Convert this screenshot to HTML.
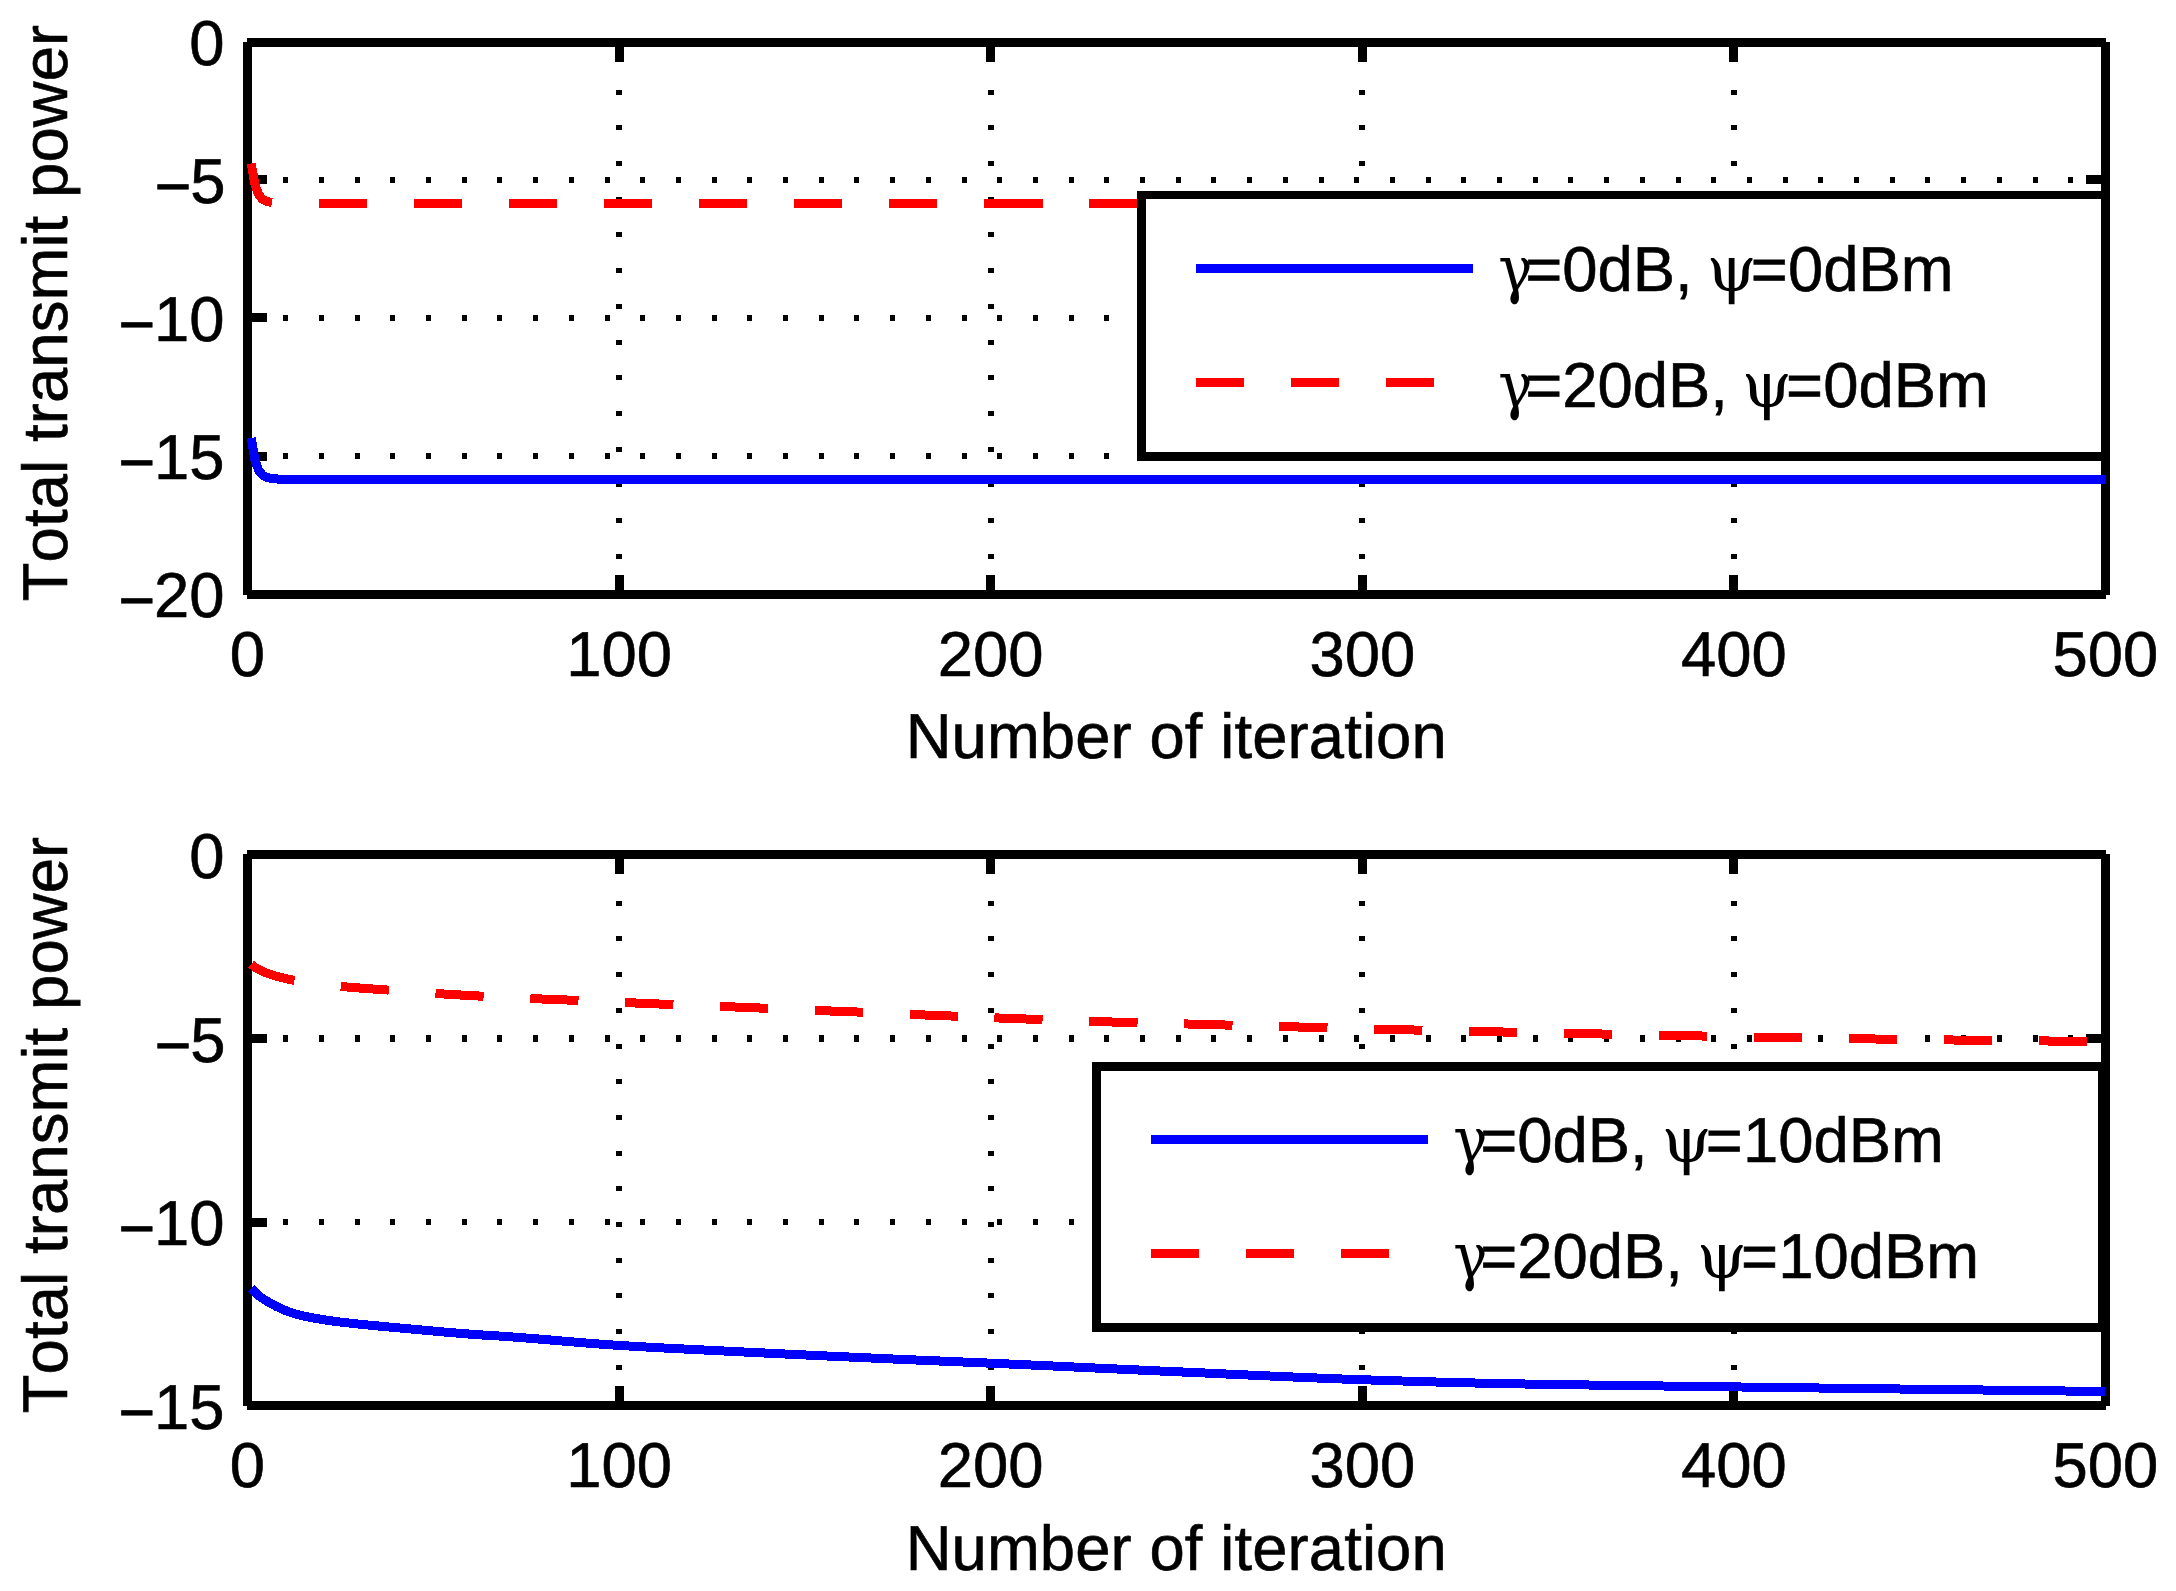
<!DOCTYPE html>
<html><head><meta charset="utf-8"><title>Total transmit power vs number of iteration</title>
<style>
html,body{margin:0;padding:0;background:#fff;}
svg{display:block;}
text{font-family:"Liberation Sans",sans-serif;font-size:63.4px;fill:#000;font-kerning:none;stroke:#000;stroke-width:0.6px;}
.gk{font-family:'DejaVu Serif','Liberation Serif',serif;stroke:none;}
</style></head><body>
<svg width="2176" height="1591" viewBox="0 0 2176 1591" shape-rendering="crispEdges" text-rendering="geometricPrecision">
<rect width="2176" height="1591" fill="#fff"/>
<line x1="619.10" y1="594.5" x2="619.10" y2="42.5" stroke="#000" stroke-width="6.0" stroke-dasharray="5.0 30.700000000000003"/>
<line x1="990.70" y1="594.5" x2="990.70" y2="42.5" stroke="#000" stroke-width="6.0" stroke-dasharray="5.0 30.700000000000003"/>
<line x1="1362.30" y1="594.5" x2="1362.30" y2="42.5" stroke="#000" stroke-width="6.0" stroke-dasharray="5.0 30.700000000000003"/>
<line x1="1733.90" y1="594.5" x2="1733.90" y2="42.5" stroke="#000" stroke-width="6.0" stroke-dasharray="5.0 30.700000000000003"/>
<line x1="247.5" y1="180.00" x2="2105.5" y2="180.00" stroke="#000" stroke-width="6" stroke-dasharray="5.0 30.700000000000003"/>
<line x1="247.5" y1="318.00" x2="2105.5" y2="318.00" stroke="#000" stroke-width="6" stroke-dasharray="5.0 30.700000000000003"/>
<line x1="247.5" y1="456.00" x2="2105.5" y2="456.00" stroke="#000" stroke-width="6" stroke-dasharray="5.0 30.700000000000003"/>
<g stroke="#000" stroke-width="9.0" fill="none">
<line x1="247.0" y1="42.5" x2="2106.0" y2="42.5"/>
<line x1="247.0" y1="594.5" x2="2106.0" y2="594.5"/>
<line x1="247.5" y1="41.5" x2="247.5" y2="595.0"/>
<line x1="2105.5" y1="41.5" x2="2105.5" y2="595.0"/>
<line x1="619.10" y1="594.5" x2="619.10" y2="575.0"/>
<line x1="619.10" y1="42.5" x2="619.10" y2="62.0"/>
<line x1="990.70" y1="594.5" x2="990.70" y2="575.0"/>
<line x1="990.70" y1="42.5" x2="990.70" y2="62.0"/>
<line x1="1362.30" y1="594.5" x2="1362.30" y2="575.0"/>
<line x1="1362.30" y1="42.5" x2="1362.30" y2="62.0"/>
<line x1="1733.90" y1="594.5" x2="1733.90" y2="575.0"/>
<line x1="1733.90" y1="42.5" x2="1733.90" y2="62.0"/>
<line x1="247.5" y1="179.50" x2="267.0" y2="179.50"/>
<line x1="2105.5" y1="179.50" x2="2086.0" y2="179.50"/>
<line x1="247.5" y1="317.50" x2="267.0" y2="317.50"/>
<line x1="2105.5" y1="317.50" x2="2086.0" y2="317.50"/>
<line x1="247.5" y1="456.50" x2="267.0" y2="456.50"/>
<line x1="2105.5" y1="456.50" x2="2086.0" y2="456.50"/>
</g>
<path d="M251.22 438.00 L254.93 460.00 L258.65 470.30 L262.36 475.00 L266.08 477.00 L269.80 478.00 L273.51 478.60 L277.23 479.00 L280.94 479.30 L284.66 479.50 L288.38 479.50 L292.09 479.50 L295.81 479.50 L299.52 479.50 L303.24 479.50 L306.96 479.50 L310.67 479.50 L314.39 479.50 L318.10 479.50 L321.82 479.50 L325.54 479.50 L329.25 479.50 L332.97 479.50 L336.68 479.50 L340.40 479.50 L344.12 479.50 L347.83 479.50 L351.55 479.50 L355.26 479.50 L358.98 479.50 L362.70 479.50 L366.41 479.50 L370.13 479.50 L373.84 479.50 L377.56 479.50 L381.28 479.50 L384.99 479.50 L388.71 479.50 L392.42 479.50 L396.14 479.50 L399.86 479.50 L403.57 479.50 L407.29 479.50 L411.00 479.50 L414.72 479.50 L418.44 479.50 L422.15 479.50 L425.87 479.50 L429.58 479.50 L433.30 479.50 L437.02 479.50 L440.73 479.50 L444.45 479.50 L448.16 479.50 L451.88 479.50 L455.60 479.50 L459.31 479.50 L463.03 479.50 L466.74 479.50 L470.46 479.50 L474.18 479.50 L477.89 479.50 L481.61 479.50 L485.32 479.50 L489.04 479.50 L492.76 479.50 L496.47 479.50 L500.19 479.50 L503.90 479.50 L507.62 479.50 L511.34 479.50 L515.05 479.50 L518.77 479.50 L522.48 479.50 L526.20 479.50 L529.92 479.50 L533.63 479.50 L537.35 479.50 L541.06 479.50 L544.78 479.50 L548.50 479.50 L552.21 479.50 L555.93 479.50 L559.64 479.50 L563.36 479.50 L567.08 479.50 L570.79 479.50 L574.51 479.50 L578.22 479.50 L581.94 479.50 L585.66 479.50 L589.37 479.50 L593.09 479.50 L596.80 479.50 L600.52 479.50 L604.24 479.50 L607.95 479.50 L611.67 479.50 L615.38 479.50 L619.10 479.50 L622.82 479.50 L626.53 479.50 L630.25 479.50 L633.96 479.50 L637.68 479.50 L641.40 479.50 L645.11 479.50 L648.83 479.50 L652.54 479.50 L656.26 479.50 L659.98 479.50 L663.69 479.50 L667.41 479.50 L671.12 479.50 L674.84 479.50 L678.56 479.50 L682.27 479.50 L685.99 479.50 L689.70 479.50 L693.42 479.50 L697.14 479.50 L700.85 479.50 L704.57 479.50 L708.28 479.50 L712.00 479.50 L715.72 479.50 L719.43 479.50 L723.15 479.50 L726.86 479.50 L730.58 479.50 L734.30 479.50 L738.01 479.50 L741.73 479.50 L745.44 479.50 L749.16 479.50 L752.88 479.50 L756.59 479.50 L760.31 479.50 L764.02 479.50 L767.74 479.50 L771.46 479.50 L775.17 479.50 L778.89 479.50 L782.60 479.50 L786.32 479.50 L790.04 479.50 L793.75 479.50 L797.47 479.50 L801.18 479.50 L804.90 479.50 L808.62 479.50 L812.33 479.50 L816.05 479.50 L819.76 479.50 L823.48 479.50 L827.20 479.50 L830.91 479.50 L834.63 479.50 L838.34 479.50 L842.06 479.50 L845.78 479.50 L849.49 479.50 L853.21 479.50 L856.92 479.50 L860.64 479.50 L864.36 479.50 L868.07 479.50 L871.79 479.50 L875.50 479.50 L879.22 479.50 L882.94 479.50 L886.65 479.50 L890.37 479.50 L894.08 479.50 L897.80 479.50 L901.52 479.50 L905.23 479.50 L908.95 479.50 L912.66 479.50 L916.38 479.50 L920.10 479.50 L923.81 479.50 L927.53 479.50 L931.24 479.50 L934.96 479.50 L938.68 479.50 L942.39 479.50 L946.11 479.50 L949.82 479.50 L953.54 479.50 L957.26 479.50 L960.97 479.50 L964.69 479.50 L968.40 479.50 L972.12 479.50 L975.84 479.50 L979.55 479.50 L983.27 479.50 L986.98 479.50 L990.70 479.50 L994.42 479.50 L998.13 479.50 L1001.85 479.50 L1005.56 479.50 L1009.28 479.50 L1013.00 479.50 L1016.71 479.50 L1020.43 479.50 L1024.14 479.50 L1027.86 479.50 L1031.58 479.50 L1035.29 479.50 L1039.01 479.50 L1042.72 479.50 L1046.44 479.50 L1050.16 479.50 L1053.87 479.50 L1057.59 479.50 L1061.30 479.50 L1065.02 479.50 L1068.74 479.50 L1072.45 479.50 L1076.17 479.50 L1079.88 479.50 L1083.60 479.50 L1087.32 479.50 L1091.03 479.50 L1094.75 479.50 L1098.46 479.50 L1102.18 479.50 L1105.90 479.50 L1109.61 479.50 L1113.33 479.50 L1117.04 479.50 L1120.76 479.50 L1124.48 479.50 L1128.19 479.50 L1131.91 479.50 L1135.62 479.50 L1139.34 479.50 L1143.06 479.50 L1146.77 479.50 L1150.49 479.50 L1154.20 479.50 L1157.92 479.50 L1161.64 479.50 L1165.35 479.50 L1169.07 479.50 L1172.78 479.50 L1176.50 479.50 L1180.22 479.50 L1183.93 479.50 L1187.65 479.50 L1191.36 479.50 L1195.08 479.50 L1198.80 479.50 L1202.51 479.50 L1206.23 479.50 L1209.94 479.50 L1213.66 479.50 L1217.38 479.50 L1221.09 479.50 L1224.81 479.50 L1228.52 479.50 L1232.24 479.50 L1235.96 479.50 L1239.67 479.50 L1243.39 479.50 L1247.10 479.50 L1250.82 479.50 L1254.54 479.50 L1258.25 479.50 L1261.97 479.50 L1265.68 479.50 L1269.40 479.50 L1273.12 479.50 L1276.83 479.50 L1280.55 479.50 L1284.26 479.50 L1287.98 479.50 L1291.70 479.50 L1295.41 479.50 L1299.13 479.50 L1302.84 479.50 L1306.56 479.50 L1310.28 479.50 L1313.99 479.50 L1317.71 479.50 L1321.42 479.50 L1325.14 479.50 L1328.86 479.50 L1332.57 479.50 L1336.29 479.50 L1340.00 479.50 L1343.72 479.50 L1347.44 479.50 L1351.15 479.50 L1354.87 479.50 L1358.58 479.50 L1362.30 479.50 L1366.02 479.50 L1369.73 479.50 L1373.45 479.50 L1377.16 479.50 L1380.88 479.50 L1384.60 479.50 L1388.31 479.50 L1392.03 479.50 L1395.74 479.50 L1399.46 479.50 L1403.18 479.50 L1406.89 479.50 L1410.61 479.50 L1414.32 479.50 L1418.04 479.50 L1421.76 479.50 L1425.47 479.50 L1429.19 479.50 L1432.90 479.50 L1436.62 479.50 L1440.34 479.50 L1444.05 479.50 L1447.77 479.50 L1451.48 479.50 L1455.20 479.50 L1458.92 479.50 L1462.63 479.50 L1466.35 479.50 L1470.06 479.50 L1473.78 479.50 L1477.50 479.50 L1481.21 479.50 L1484.93 479.50 L1488.64 479.50 L1492.36 479.50 L1496.08 479.50 L1499.79 479.50 L1503.51 479.50 L1507.22 479.50 L1510.94 479.50 L1514.66 479.50 L1518.37 479.50 L1522.09 479.50 L1525.80 479.50 L1529.52 479.50 L1533.24 479.50 L1536.95 479.50 L1540.67 479.50 L1544.38 479.50 L1548.10 479.50 L1551.82 479.50 L1555.53 479.50 L1559.25 479.50 L1562.96 479.50 L1566.68 479.50 L1570.40 479.50 L1574.11 479.50 L1577.83 479.50 L1581.54 479.50 L1585.26 479.50 L1588.98 479.50 L1592.69 479.50 L1596.41 479.50 L1600.12 479.50 L1603.84 479.50 L1607.56 479.50 L1611.27 479.50 L1614.99 479.50 L1618.70 479.50 L1622.42 479.50 L1626.14 479.50 L1629.85 479.50 L1633.57 479.50 L1637.28 479.50 L1641.00 479.50 L1644.72 479.50 L1648.43 479.50 L1652.15 479.50 L1655.86 479.50 L1659.58 479.50 L1663.30 479.50 L1667.01 479.50 L1670.73 479.50 L1674.44 479.50 L1678.16 479.50 L1681.88 479.50 L1685.59 479.50 L1689.31 479.50 L1693.02 479.50 L1696.74 479.50 L1700.46 479.50 L1704.17 479.50 L1707.89 479.50 L1711.60 479.50 L1715.32 479.50 L1719.04 479.50 L1722.75 479.50 L1726.47 479.50 L1730.18 479.50 L1733.90 479.50 L1737.62 479.50 L1741.33 479.50 L1745.05 479.50 L1748.76 479.50 L1752.48 479.50 L1756.20 479.50 L1759.91 479.50 L1763.63 479.50 L1767.34 479.50 L1771.06 479.50 L1774.78 479.50 L1778.49 479.50 L1782.21 479.50 L1785.92 479.50 L1789.64 479.50 L1793.36 479.50 L1797.07 479.50 L1800.79 479.50 L1804.50 479.50 L1808.22 479.50 L1811.94 479.50 L1815.65 479.50 L1819.37 479.50 L1823.08 479.50 L1826.80 479.50 L1830.52 479.50 L1834.23 479.50 L1837.95 479.50 L1841.66 479.50 L1845.38 479.50 L1849.10 479.50 L1852.81 479.50 L1856.53 479.50 L1860.24 479.50 L1863.96 479.50 L1867.68 479.50 L1871.39 479.50 L1875.11 479.50 L1878.82 479.50 L1882.54 479.50 L1886.26 479.50 L1889.97 479.50 L1893.69 479.50 L1897.40 479.50 L1901.12 479.50 L1904.84 479.50 L1908.55 479.50 L1912.27 479.50 L1915.98 479.50 L1919.70 479.50 L1923.42 479.50 L1927.13 479.50 L1930.85 479.50 L1934.56 479.50 L1938.28 479.50 L1942.00 479.50 L1945.71 479.50 L1949.43 479.50 L1953.14 479.50 L1956.86 479.50 L1960.58 479.50 L1964.29 479.50 L1968.01 479.50 L1971.72 479.50 L1975.44 479.50 L1979.16 479.50 L1982.87 479.50 L1986.59 479.50 L1990.30 479.50 L1994.02 479.50 L1997.74 479.50 L2001.45 479.50 L2005.17 479.50 L2008.88 479.50 L2012.60 479.50 L2016.32 479.50 L2020.03 479.50 L2023.75 479.50 L2027.46 479.50 L2031.18 479.50 L2034.90 479.50 L2038.61 479.50 L2042.33 479.50 L2046.04 479.50 L2049.76 479.50 L2053.48 479.50 L2057.19 479.50 L2060.91 479.50 L2064.62 479.50 L2068.34 479.50 L2072.06 479.50 L2075.77 479.50 L2079.49 479.50 L2083.20 479.50 L2086.92 479.50 L2090.64 479.50 L2094.35 479.50 L2098.07 479.50 L2101.78 479.50 L2105.50 479.50" fill="none" stroke="#00f" stroke-width="9.0" stroke-linejoin="round"/>
<path d="M251.22 163.50 L254.93 184.60 L258.65 194.60 L262.36 199.10 L266.08 201.10 L269.80 202.10 L273.51 202.70 L277.23 203.10 L280.94 203.30 L284.66 203.50 L288.38 203.50 L292.09 203.50 L295.81 203.50 L299.52 203.50 L303.24 203.50 L306.96 203.50 L310.67 203.50 L314.39 203.50 L318.10 203.50 L321.82 203.50 L325.54 203.50 L329.25 203.50 L332.97 203.50 L336.68 203.50 L340.40 203.50 L344.12 203.50 L347.83 203.50 L351.55 203.50 L355.26 203.50 L358.98 203.50 L362.70 203.50 L366.41 203.50 L370.13 203.50 L373.84 203.50 L377.56 203.50 L381.28 203.50 L384.99 203.50 L388.71 203.50 L392.42 203.50 L396.14 203.50 L399.86 203.50 L403.57 203.50 L407.29 203.50 L411.00 203.50 L414.72 203.50 L418.44 203.50 L422.15 203.50 L425.87 203.50 L429.58 203.50 L433.30 203.50 L437.02 203.50 L440.73 203.50 L444.45 203.50 L448.16 203.50 L451.88 203.50 L455.60 203.50 L459.31 203.50 L463.03 203.50 L466.74 203.50 L470.46 203.50 L474.18 203.50 L477.89 203.50 L481.61 203.50 L485.32 203.50 L489.04 203.50 L492.76 203.50 L496.47 203.50 L500.19 203.50 L503.90 203.50 L507.62 203.50 L511.34 203.50 L515.05 203.50 L518.77 203.50 L522.48 203.50 L526.20 203.50 L529.92 203.50 L533.63 203.50 L537.35 203.50 L541.06 203.50 L544.78 203.50 L548.50 203.50 L552.21 203.50 L555.93 203.50 L559.64 203.50 L563.36 203.50 L567.08 203.50 L570.79 203.50 L574.51 203.50 L578.22 203.50 L581.94 203.50 L585.66 203.50 L589.37 203.50 L593.09 203.50 L596.80 203.50 L600.52 203.50 L604.24 203.50 L607.95 203.50 L611.67 203.50 L615.38 203.50 L619.10 203.50 L622.82 203.50 L626.53 203.50 L630.25 203.50 L633.96 203.50 L637.68 203.50 L641.40 203.50 L645.11 203.50 L648.83 203.50 L652.54 203.50 L656.26 203.50 L659.98 203.50 L663.69 203.50 L667.41 203.50 L671.12 203.50 L674.84 203.50 L678.56 203.50 L682.27 203.50 L685.99 203.50 L689.70 203.50 L693.42 203.50 L697.14 203.50 L700.85 203.50 L704.57 203.50 L708.28 203.50 L712.00 203.50 L715.72 203.50 L719.43 203.50 L723.15 203.50 L726.86 203.50 L730.58 203.50 L734.30 203.50 L738.01 203.50 L741.73 203.50 L745.44 203.50 L749.16 203.50 L752.88 203.50 L756.59 203.50 L760.31 203.50 L764.02 203.50 L767.74 203.50 L771.46 203.50 L775.17 203.50 L778.89 203.50 L782.60 203.50 L786.32 203.50 L790.04 203.50 L793.75 203.50 L797.47 203.50 L801.18 203.50 L804.90 203.50 L808.62 203.50 L812.33 203.50 L816.05 203.50 L819.76 203.50 L823.48 203.50 L827.20 203.50 L830.91 203.50 L834.63 203.50 L838.34 203.50 L842.06 203.50 L845.78 203.50 L849.49 203.50 L853.21 203.50 L856.92 203.50 L860.64 203.50 L864.36 203.50 L868.07 203.50 L871.79 203.50 L875.50 203.50 L879.22 203.50 L882.94 203.50 L886.65 203.50 L890.37 203.50 L894.08 203.50 L897.80 203.50 L901.52 203.50 L905.23 203.50 L908.95 203.50 L912.66 203.50 L916.38 203.50 L920.10 203.50 L923.81 203.50 L927.53 203.50 L931.24 203.50 L934.96 203.50 L938.68 203.50 L942.39 203.50 L946.11 203.50 L949.82 203.50 L953.54 203.50 L957.26 203.50 L960.97 203.50 L964.69 203.50 L968.40 203.50 L972.12 203.50 L975.84 203.50 L979.55 203.50 L983.27 203.50 L986.98 203.50 L990.70 203.50 L994.42 203.50" fill="none" stroke="#f00" stroke-width="9.0" stroke-dasharray="48.2 46.8"/>
<path d="M994.42 203.50 L998.13 203.50 L1001.85 203.50 L1005.56 203.50 L1009.28 203.50 L1013.00 203.50 L1016.71 203.50 L1020.43 203.50 L1024.14 203.50 L1027.86 203.50 L1031.58 203.50 L1035.29 203.50 L1039.01 203.50 L1042.72 203.50 L1046.44 203.50 L1050.16 203.50 L1053.87 203.50 L1057.59 203.50 L1061.30 203.50 L1065.02 203.50 L1068.74 203.50 L1072.45 203.50 L1076.17 203.50 L1079.88 203.50 L1083.60 203.50 L1087.32 203.50 L1091.03 203.50 L1094.75 203.50 L1098.46 203.50 L1102.18 203.50 L1105.90 203.50 L1109.61 203.50 L1113.33 203.50 L1117.04 203.50 L1120.76 203.50 L1124.48 203.50 L1128.19 203.50 L1131.91 203.50 L1135.62 203.50 L1139.34 203.50 L1143.06 203.50 L1146.77 203.50 L1150.49 203.50 L1154.20 203.50 L1157.92 203.50 L1161.64 203.50 L1165.35 203.50 L1169.07 203.50 L1172.78 203.50 L1176.50 203.50 L1180.22 203.50 L1183.93 203.50 L1187.65 203.50 L1191.36 203.50 L1195.08 203.50 L1198.80 203.50 L1202.51 203.50 L1206.23 203.50 L1209.94 203.50 L1213.66 203.50 L1217.38 203.50 L1221.09 203.50 L1224.81 203.50 L1228.52 203.50 L1232.24 203.50 L1235.96 203.50 L1239.67 203.50 L1243.39 203.50 L1247.10 203.50 L1250.82 203.50 L1254.54 203.50 L1258.25 203.50 L1261.97 203.50 L1265.68 203.50 L1269.40 203.50 L1273.12 203.50 L1276.83 203.50 L1280.55 203.50 L1284.26 203.50 L1287.98 203.50 L1291.70 203.50 L1295.41 203.50 L1299.13 203.50 L1302.84 203.50 L1306.56 203.50 L1310.28 203.50 L1313.99 203.50 L1317.71 203.50 L1321.42 203.50 L1325.14 203.50 L1328.86 203.50 L1332.57 203.50 L1336.29 203.50 L1340.00 203.50 L1343.72 203.50 L1347.44 203.50 L1351.15 203.50 L1354.87 203.50 L1358.58 203.50 L1362.30 203.50 L1366.02 203.50 L1369.73 203.50 L1373.45 203.50 L1377.16 203.50 L1380.88 203.50 L1384.60 203.50 L1388.31 203.50 L1392.03 203.50 L1395.74 203.50 L1399.46 203.50 L1403.18 203.50 L1406.89 203.50 L1410.61 203.50 L1414.32 203.50 L1418.04 203.50 L1421.76 203.50 L1425.47 203.50 L1429.19 203.50 L1432.90 203.50 L1436.62 203.50 L1440.34 203.50 L1444.05 203.50 L1447.77 203.50 L1451.48 203.50 L1455.20 203.50 L1458.92 203.50 L1462.63 203.50 L1466.35 203.50 L1470.06 203.50 L1473.78 203.50 L1477.50 203.50 L1481.21 203.50 L1484.93 203.50 L1488.64 203.50 L1492.36 203.50 L1496.08 203.50 L1499.79 203.50 L1503.51 203.50 L1507.22 203.50 L1510.94 203.50 L1514.66 203.50 L1518.37 203.50 L1522.09 203.50 L1525.80 203.50 L1529.52 203.50 L1533.24 203.50 L1536.95 203.50 L1540.67 203.50 L1544.38 203.50 L1548.10 203.50 L1551.82 203.50 L1555.53 203.50 L1559.25 203.50 L1562.96 203.50 L1566.68 203.50 L1570.40 203.50 L1574.11 203.50 L1577.83 203.50 L1581.54 203.50 L1585.26 203.50 L1588.98 203.50 L1592.69 203.50 L1596.41 203.50 L1600.12 203.50 L1603.84 203.50 L1607.56 203.50 L1611.27 203.50 L1614.99 203.50 L1618.70 203.50 L1622.42 203.50 L1626.14 203.50 L1629.85 203.50 L1633.57 203.50 L1637.28 203.50 L1641.00 203.50 L1644.72 203.50 L1648.43 203.50 L1652.15 203.50 L1655.86 203.50 L1659.58 203.50 L1663.30 203.50 L1667.01 203.50 L1670.73 203.50 L1674.44 203.50 L1678.16 203.50 L1681.88 203.50 L1685.59 203.50 L1689.31 203.50 L1693.02 203.50 L1696.74 203.50 L1700.46 203.50 L1704.17 203.50 L1707.89 203.50 L1711.60 203.50 L1715.32 203.50 L1719.04 203.50 L1722.75 203.50 L1726.47 203.50 L1730.18 203.50 L1733.90 203.50 L1737.62 203.50 L1741.33 203.50 L1745.05 203.50 L1748.76 203.50 L1752.48 203.50 L1756.20 203.50 L1759.91 203.50 L1763.63 203.50 L1767.34 203.50 L1771.06 203.50 L1774.78 203.50 L1778.49 203.50 L1782.21 203.50 L1785.92 203.50 L1789.64 203.50 L1793.36 203.50 L1797.07 203.50 L1800.79 203.50 L1804.50 203.50 L1808.22 203.50 L1811.94 203.50 L1815.65 203.50 L1819.37 203.50 L1823.08 203.50 L1826.80 203.50 L1830.52 203.50 L1834.23 203.50 L1837.95 203.50 L1841.66 203.50 L1845.38 203.50 L1849.10 203.50 L1852.81 203.50 L1856.53 203.50 L1860.24 203.50 L1863.96 203.50 L1867.68 203.50 L1871.39 203.50 L1875.11 203.50 L1878.82 203.50 L1882.54 203.50 L1886.26 203.50 L1889.97 203.50 L1893.69 203.50 L1897.40 203.50 L1901.12 203.50 L1904.84 203.50 L1908.55 203.50 L1912.27 203.50 L1915.98 203.50 L1919.70 203.50 L1923.42 203.50 L1927.13 203.50 L1930.85 203.50 L1934.56 203.50 L1938.28 203.50 L1942.00 203.50 L1945.71 203.50 L1949.43 203.50 L1953.14 203.50 L1956.86 203.50 L1960.58 203.50 L1964.29 203.50 L1968.01 203.50 L1971.72 203.50 L1975.44 203.50 L1979.16 203.50 L1982.87 203.50 L1986.59 203.50 L1990.30 203.50 L1994.02 203.50 L1997.74 203.50 L2001.45 203.50 L2005.17 203.50 L2008.88 203.50 L2012.60 203.50 L2016.32 203.50 L2020.03 203.50 L2023.75 203.50 L2027.46 203.50 L2031.18 203.50 L2034.90 203.50 L2038.61 203.50 L2042.33 203.50 L2046.04 203.50 L2049.76 203.50 L2053.48 203.50 L2057.19 203.50 L2060.91 203.50 L2064.62 203.50 L2068.34 203.50 L2072.06 203.50 L2075.77 203.50 L2079.49 203.50 L2083.20 203.50 L2086.92 203.50 L2090.64 203.50 L2094.35 203.50 L2098.07 203.50 L2101.78 203.50 L2105.50 203.50" fill="none" stroke="#f00" stroke-width="9.0" stroke-dasharray="48.2 46.8"/>
<rect x="1141.5" y="195" width="964.0" height="261.5" fill="#fff" stroke="#000" stroke-width="8.5"/>
<line x1="1196.0" y1="268.5" x2="1472.5" y2="268.5" stroke="#00f" stroke-width="9.0"/>
<line x1="1196.0" y1="382.5" x2="1472.5" y2="382.5" stroke="#f00" stroke-width="9.0" stroke-dasharray="48.2 46.8"/>
<text class="gk" transform="translate(1498.13 291.00) scale(0.9 1)">γ</text><text x="1525.30" y="291.00">=0dB, </text><text class="gk" x="1706.66" y="291.00">ψ</text><text x="1750.86" y="291.00">=0dBm</text>
<text class="gk" transform="translate(1498.13 407.00) scale(0.9 1)">γ</text><text x="1525.30" y="407.00">=20dB, </text><text class="gk" x="1741.91" y="407.00">ψ</text><text x="1786.11" y="407.00">=0dBm</text>
<text x="224.5" y="64.90" text-anchor="end">0</text>
<text x="225.5" y="203.00" text-anchor="end">5</text>
<text x="191.54" y="207.70" text-anchor="end">−</text>
<text x="224.5" y="340.80" text-anchor="end">10</text>
<text x="155.28" y="345.50" text-anchor="end">−</text>
<text x="224.5" y="478.90" text-anchor="end">15</text>
<text x="155.28" y="483.60" text-anchor="end">−</text>
<text x="224.5" y="616.90" text-anchor="end">20</text>
<text x="155.28" y="621.60" text-anchor="end">−</text>
<text x="247.50" y="676.0" text-anchor="middle">0</text>
<text x="619.10" y="676.0" text-anchor="middle">100</text>
<text x="990.70" y="676.0" text-anchor="middle">200</text>
<text x="1362.30" y="676.0" text-anchor="middle">300</text>
<text x="1733.90" y="676.0" text-anchor="middle">400</text>
<text x="2105.50" y="676.0" text-anchor="middle">500</text>
<text x="1176.20" y="757.90" text-anchor="middle" textLength="541" lengthAdjust="spacing">Number of iteration</text>
<text transform="translate(67.4 601.30) rotate(-90)" x="0" y="0" textLength="576.5" lengthAdjust="spacing">Total transmit power</text>
<line x1="619.10" y1="1405.5" x2="619.10" y2="854.5" stroke="#000" stroke-width="6.0" stroke-dasharray="5.0 30.700000000000003"/>
<line x1="990.70" y1="1405.5" x2="990.70" y2="854.5" stroke="#000" stroke-width="6.0" stroke-dasharray="5.0 30.700000000000003"/>
<line x1="1362.30" y1="1405.5" x2="1362.30" y2="854.5" stroke="#000" stroke-width="6.0" stroke-dasharray="5.0 30.700000000000003"/>
<line x1="1733.90" y1="1405.5" x2="1733.90" y2="854.5" stroke="#000" stroke-width="6.0" stroke-dasharray="5.0 30.700000000000003"/>
<line x1="247.5" y1="1038.50" x2="2105.5" y2="1038.50" stroke="#000" stroke-width="6.6" stroke-dasharray="5.0 30.700000000000003"/>
<line x1="247.5" y1="1222.00" x2="2105.5" y2="1222.00" stroke="#000" stroke-width="6" stroke-dasharray="5.0 30.700000000000003"/>
<g stroke="#000" stroke-width="9.0" fill="none">
<line x1="247.0" y1="854.5" x2="2106.0" y2="854.5"/>
<line x1="247.0" y1="1405.5" x2="2106.0" y2="1405.5"/>
<line x1="247.5" y1="853.5" x2="247.5" y2="1406.0"/>
<line x1="2105.5" y1="853.5" x2="2105.5" y2="1406.0"/>
<line x1="619.10" y1="1405.5" x2="619.10" y2="1386.0"/>
<line x1="619.10" y1="854.5" x2="619.10" y2="874.0"/>
<line x1="990.70" y1="1405.5" x2="990.70" y2="1386.0"/>
<line x1="990.70" y1="854.5" x2="990.70" y2="874.0"/>
<line x1="1362.30" y1="1405.5" x2="1362.30" y2="1386.0"/>
<line x1="1362.30" y1="854.5" x2="1362.30" y2="874.0"/>
<line x1="1733.90" y1="1405.5" x2="1733.90" y2="1386.0"/>
<line x1="1733.90" y1="854.5" x2="1733.90" y2="874.0"/>
<line x1="247.5" y1="1038.50" x2="267.0" y2="1038.50"/>
<line x1="2105.5" y1="1038.50" x2="2086.0" y2="1038.50"/>
<line x1="247.5" y1="1222.50" x2="267.0" y2="1222.50"/>
<line x1="2105.5" y1="1222.50" x2="2086.0" y2="1222.50"/>
</g>
<path d="M251.22 1288.22 L254.93 1292.35 L258.65 1295.55 L262.36 1298.26 L266.08 1300.63 L269.80 1302.85 L273.51 1304.96 L277.23 1306.85 L280.94 1308.54 L284.66 1310.13 L288.38 1311.62 L292.09 1312.93 L295.81 1314.08 L299.52 1315.10 L303.24 1316.00 L306.96 1316.79 L310.67 1317.52 L314.39 1318.20 L318.10 1318.83 L321.82 1319.43 L325.54 1320.02 L329.25 1320.58 L332.97 1321.10 L336.68 1321.58 L340.40 1322.04 L344.12 1322.47 L347.83 1322.90 L351.55 1323.31 L355.26 1323.71 L358.98 1324.10 L362.70 1324.48 L366.41 1324.85 L370.13 1325.21 L373.84 1325.57 L377.56 1325.92 L381.28 1326.27 L384.99 1326.62 L388.71 1326.96 L392.42 1327.30 L396.14 1327.64 L399.86 1327.98 L403.57 1328.32 L407.29 1328.67 L411.00 1329.01 L414.72 1329.35 L418.44 1329.70 L422.15 1330.04 L425.87 1330.38 L429.58 1330.72 L433.30 1331.05 L437.02 1331.38 L440.73 1331.71 L444.45 1332.04 L448.16 1332.36 L451.88 1332.67 L455.60 1332.98 L459.31 1333.28 L463.03 1333.58 L466.74 1333.87 L470.46 1334.16 L474.18 1334.43 L477.89 1334.70 L481.61 1334.95 L485.32 1335.19 L489.04 1335.41 L492.76 1335.64 L496.47 1335.87 L500.19 1336.10 L503.90 1336.35 L507.62 1336.60 L511.34 1336.87 L515.05 1337.15 L518.77 1337.43 L522.48 1337.71 L526.20 1338.01 L529.92 1338.30 L533.63 1338.61 L537.35 1338.91 L541.06 1339.22 L544.78 1339.53 L548.50 1339.85 L552.21 1340.16 L555.93 1340.48 L559.64 1340.79 L563.36 1341.11 L567.08 1341.42 L570.79 1341.74 L574.51 1342.05 L578.22 1342.36 L581.94 1342.66 L585.66 1342.96 L589.37 1343.26 L593.09 1343.55 L596.80 1343.84 L600.52 1344.12 L604.24 1344.39 L607.95 1344.66 L611.67 1344.92 L615.38 1345.17 L619.10 1345.41 L622.82 1345.64 L626.53 1345.87 L630.25 1346.09 L633.96 1346.32 L637.68 1346.53 L641.40 1346.75 L645.11 1346.96 L648.83 1347.17 L652.54 1347.38 L656.26 1347.58 L659.98 1347.78 L663.69 1347.98 L667.41 1348.17 L671.12 1348.37 L674.84 1348.56 L678.56 1348.75 L682.27 1348.94 L685.99 1349.13 L689.70 1349.31 L693.42 1349.50 L697.14 1349.68 L700.85 1349.87 L704.57 1350.05 L708.28 1350.23 L712.00 1350.41 L715.72 1350.60 L719.43 1350.78 L723.15 1350.96 L726.86 1351.15 L730.58 1351.33 L734.30 1351.51 L738.01 1351.70 L741.73 1351.89 L745.44 1352.07 L749.16 1352.25 L752.88 1352.44 L756.59 1352.62 L760.31 1352.80 L764.02 1352.98 L767.74 1353.17 L771.46 1353.35 L775.17 1353.53 L778.89 1353.71 L782.60 1353.89 L786.32 1354.06 L790.04 1354.24 L793.75 1354.42 L797.47 1354.60 L801.18 1354.77 L804.90 1354.95 L808.62 1355.12 L812.33 1355.30 L816.05 1355.47 L819.76 1355.65 L823.48 1355.82 L827.20 1356.00 L830.91 1356.17 L834.63 1356.34 L838.34 1356.51 L842.06 1356.69 L845.78 1356.86 L849.49 1357.03 L853.21 1357.20 L856.92 1357.37 L860.64 1357.54 L864.36 1357.71 L868.07 1357.88 L871.79 1358.04 L875.50 1358.21 L879.22 1358.38 L882.94 1358.55 L886.65 1358.71 L890.37 1358.88 L894.08 1359.05 L897.80 1359.21 L901.52 1359.38 L905.23 1359.54 L908.95 1359.71 L912.66 1359.87 L916.38 1360.03 L920.10 1360.19 L923.81 1360.35 L927.53 1360.51 L931.24 1360.66 L934.96 1360.82 L938.68 1360.98 L942.39 1361.13 L946.11 1361.29 L949.82 1361.44 L953.54 1361.60 L957.26 1361.76 L960.97 1361.91 L964.69 1362.07 L968.40 1362.23 L972.12 1362.38 L975.84 1362.54 L979.55 1362.70 L983.27 1362.86 L986.98 1363.02 L990.70 1363.19 L994.42 1363.35 L998.13 1363.52 L1001.85 1363.68 L1005.56 1363.85 L1009.28 1364.02 L1013.00 1364.18 L1016.71 1364.35 L1020.43 1364.52 L1024.14 1364.69 L1027.86 1364.86 L1031.58 1365.03 L1035.29 1365.20 L1039.01 1365.37 L1042.72 1365.55 L1046.44 1365.72 L1050.16 1365.89 L1053.87 1366.06 L1057.59 1366.24 L1061.30 1366.41 L1065.02 1366.58 L1068.74 1366.76 L1072.45 1366.93 L1076.17 1367.11 L1079.88 1367.28 L1083.60 1367.45 L1087.32 1367.63 L1091.03 1367.80 L1094.75 1367.98 L1098.46 1368.15 L1102.18 1368.33 L1105.90 1368.50 L1109.61 1368.67 L1113.33 1368.85 L1117.04 1369.02 L1120.76 1369.19 L1124.48 1369.37 L1128.19 1369.54 L1131.91 1369.71 L1135.62 1369.88 L1139.34 1370.05 L1143.06 1370.22 L1146.77 1370.39 L1150.49 1370.56 L1154.20 1370.73 L1157.92 1370.90 L1161.64 1371.07 L1165.35 1371.24 L1169.07 1371.40 L1172.78 1371.57 L1176.50 1371.74 L1180.22 1371.90 L1183.93 1372.07 L1187.65 1372.24 L1191.36 1372.40 L1195.08 1372.57 L1198.80 1372.74 L1202.51 1372.91 L1206.23 1373.08 L1209.94 1373.25 L1213.66 1373.42 L1217.38 1373.60 L1221.09 1373.77 L1224.81 1373.94 L1228.52 1374.11 L1232.24 1374.28 L1235.96 1374.45 L1239.67 1374.62 L1243.39 1374.80 L1247.10 1374.97 L1250.82 1375.14 L1254.54 1375.31 L1258.25 1375.48 L1261.97 1375.64 L1265.68 1375.81 L1269.40 1375.98 L1273.12 1376.15 L1276.83 1376.31 L1280.55 1376.48 L1284.26 1376.64 L1287.98 1376.80 L1291.70 1376.96 L1295.41 1377.12 L1299.13 1377.28 L1302.84 1377.44 L1306.56 1377.60 L1310.28 1377.75 L1313.99 1377.90 L1317.71 1378.05 L1321.42 1378.20 L1325.14 1378.35 L1328.86 1378.50 L1332.57 1378.64 L1336.29 1378.78 L1340.00 1378.92 L1343.72 1379.06 L1347.44 1379.19 L1351.15 1379.33 L1354.87 1379.46 L1358.58 1379.58 L1362.30 1379.71 L1366.02 1379.83 L1369.73 1379.96 L1373.45 1380.08 L1377.16 1380.20 L1380.88 1380.32 L1384.60 1380.44 L1388.31 1380.56 L1392.03 1380.68 L1395.74 1380.80 L1399.46 1380.92 L1403.18 1381.03 L1406.89 1381.15 L1410.61 1381.26 L1414.32 1381.38 L1418.04 1381.49 L1421.76 1381.60 L1425.47 1381.71 L1429.19 1381.81 L1432.90 1381.92 L1436.62 1382.02 L1440.34 1382.13 L1444.05 1382.23 L1447.77 1382.33 L1451.48 1382.43 L1455.20 1382.52 L1458.92 1382.62 L1462.63 1382.71 L1466.35 1382.80 L1470.06 1382.89 L1473.78 1382.98 L1477.50 1383.07 L1481.21 1383.15 L1484.93 1383.23 L1488.64 1383.31 L1492.36 1383.39 L1496.08 1383.46 L1499.79 1383.53 L1503.51 1383.61 L1507.22 1383.68 L1510.94 1383.75 L1514.66 1383.82 L1518.37 1383.88 L1522.09 1383.95 L1525.80 1384.02 L1529.52 1384.08 L1533.24 1384.14 L1536.95 1384.21 L1540.67 1384.27 L1544.38 1384.33 L1548.10 1384.39 L1551.82 1384.45 L1555.53 1384.51 L1559.25 1384.57 L1562.96 1384.63 L1566.68 1384.68 L1570.40 1384.74 L1574.11 1384.80 L1577.83 1384.85 L1581.54 1384.91 L1585.26 1384.96 L1588.98 1385.01 L1592.69 1385.07 L1596.41 1385.12 L1600.12 1385.17 L1603.84 1385.22 L1607.56 1385.27 L1611.27 1385.32 L1614.99 1385.37 L1618.70 1385.42 L1622.42 1385.47 L1626.14 1385.52 L1629.85 1385.57 L1633.57 1385.62 L1637.28 1385.67 L1641.00 1385.71 L1644.72 1385.76 L1648.43 1385.81 L1652.15 1385.86 L1655.86 1385.90 L1659.58 1385.95 L1663.30 1386.00 L1667.01 1386.05 L1670.73 1386.09 L1674.44 1386.14 L1678.16 1386.19 L1681.88 1386.23 L1685.59 1386.28 L1689.31 1386.33 L1693.02 1386.37 L1696.74 1386.42 L1700.46 1386.47 L1704.17 1386.52 L1707.89 1386.56 L1711.60 1386.61 L1715.32 1386.66 L1719.04 1386.71 L1722.75 1386.76 L1726.47 1386.81 L1730.18 1386.86 L1733.90 1386.91 L1737.62 1386.96 L1741.33 1387.00 L1745.05 1387.05 L1748.76 1387.10 L1752.48 1387.15 L1756.20 1387.20 L1759.91 1387.25 L1763.63 1387.30 L1767.34 1387.35 L1771.06 1387.40 L1774.78 1387.44 L1778.49 1387.49 L1782.21 1387.54 L1785.92 1387.59 L1789.64 1387.64 L1793.36 1387.68 L1797.07 1387.73 L1800.79 1387.78 L1804.50 1387.83 L1808.22 1387.87 L1811.94 1387.92 L1815.65 1387.97 L1819.37 1388.01 L1823.08 1388.06 L1826.80 1388.11 L1830.52 1388.15 L1834.23 1388.20 L1837.95 1388.25 L1841.66 1388.29 L1845.38 1388.34 L1849.10 1388.39 L1852.81 1388.43 L1856.53 1388.48 L1860.24 1388.52 L1863.96 1388.57 L1867.68 1388.62 L1871.39 1388.66 L1875.11 1388.71 L1878.82 1388.75 L1882.54 1388.80 L1886.26 1388.84 L1889.97 1388.89 L1893.69 1388.93 L1897.40 1388.98 L1901.12 1389.03 L1904.84 1389.07 L1908.55 1389.12 L1912.27 1389.16 L1915.98 1389.21 L1919.70 1389.25 L1923.42 1389.30 L1927.13 1389.34 L1930.85 1389.39 L1934.56 1389.43 L1938.28 1389.47 L1942.00 1389.52 L1945.71 1389.56 L1949.43 1389.61 L1953.14 1389.65 L1956.86 1389.70 L1960.58 1389.74 L1964.29 1389.79 L1968.01 1389.83 L1971.72 1389.88 L1975.44 1389.92 L1979.16 1389.97 L1982.87 1390.01 L1986.59 1390.06 L1990.30 1390.10 L1994.02 1390.15 L1997.74 1390.19 L2001.45 1390.24 L2005.17 1390.28 L2008.88 1390.32 L2012.60 1390.37 L2016.32 1390.41 L2020.03 1390.46 L2023.75 1390.50 L2027.46 1390.55 L2031.18 1390.59 L2034.90 1390.64 L2038.61 1390.68 L2042.33 1390.73 L2046.04 1390.77 L2049.76 1390.82 L2053.48 1390.86 L2057.19 1390.91 L2060.91 1390.95 L2064.62 1391.00 L2068.34 1391.04 L2072.06 1391.09 L2075.77 1391.13 L2079.49 1391.18 L2083.20 1391.23 L2086.92 1391.27 L2090.64 1391.32 L2094.35 1391.36 L2098.07 1391.41 L2101.78 1391.45 L2105.50 1391.50" fill="none" stroke="#00f" stroke-width="9.0" stroke-linejoin="round"/>
<path d="M251.22 964.21 L254.93 967.32 L258.65 969.42 L262.36 971.18 L266.08 972.79 L269.80 974.18 L273.51 975.40 L277.23 976.50 L280.94 977.49 L284.66 978.39 L288.38 979.21 L292.09 979.96 L295.81 980.64 L299.52 981.28 L303.24 981.89 L306.96 982.47 L310.67 983.01 L314.39 983.53 L318.10 984.01 L321.82 984.47 L325.54 984.91 L329.25 985.33 L332.97 985.72 L336.68 986.09 L340.40 986.44 L344.12 986.78 L347.83 987.10 L351.55 987.40 L355.26 987.70 L358.98 987.98 L362.70 988.26 L366.41 988.53 L370.13 988.80 L373.84 989.06 L377.56 989.32 L381.28 989.59 L384.99 989.85 L388.71 990.12 L392.42 990.39 L396.14 990.67 L399.86 990.94 L403.57 991.22 L407.29 991.49 L411.00 991.77 L414.72 992.04 L418.44 992.30 L422.15 992.57 L425.87 992.82 L429.58 993.08 L433.30 993.32 L437.02 993.57 L440.73 993.80 L444.45 994.03 L448.16 994.26 L451.88 994.49 L455.60 994.71 L459.31 994.93 L463.03 995.15 L466.74 995.36 L470.46 995.57 L474.18 995.77 L477.89 995.97 L481.61 996.17 L485.32 996.37 L489.04 996.56 L492.76 996.75 L496.47 996.94 L500.19 997.12 L503.90 997.30 L507.62 997.48 L511.34 997.65 L515.05 997.83 L518.77 998.00 L522.48 998.17 L526.20 998.33 L529.92 998.50 L533.63 998.66 L537.35 998.82 L541.06 998.97 L544.78 999.12 L548.50 999.27 L552.21 999.42 L555.93 999.57 L559.64 999.71 L563.36 999.86 L567.08 1000.01 L570.79 1000.16 L574.51 1000.31 L578.22 1000.47 L581.94 1000.63 L585.66 1000.79 L589.37 1000.95 L593.09 1001.12 L596.80 1001.29 L600.52 1001.46 L604.24 1001.63 L607.95 1001.80 L611.67 1001.96 L615.38 1002.13 L619.10 1002.30 L622.82 1002.46 L626.53 1002.62 L630.25 1002.78 L633.96 1002.94 L637.68 1003.10 L641.40 1003.26 L645.11 1003.41 L648.83 1003.57 L652.54 1003.72 L656.26 1003.88 L659.98 1004.03 L663.69 1004.18 L667.41 1004.33 L671.12 1004.48 L674.84 1004.63 L678.56 1004.78 L682.27 1004.93 L685.99 1005.08 L689.70 1005.22 L693.42 1005.36 L697.14 1005.51 L700.85 1005.65 L704.57 1005.79 L708.28 1005.94 L712.00 1006.08 L715.72 1006.23 L719.43 1006.38 L723.15 1006.53 L726.86 1006.67 L730.58 1006.82 L734.30 1006.97 L738.01 1007.12 L741.73 1007.27 L745.44 1007.43 L749.16 1007.58 L752.88 1007.73 L756.59 1007.88 L760.31 1008.04 L764.02 1008.19 L767.74 1008.35 L771.46 1008.50 L775.17 1008.66 L778.89 1008.83 L782.60 1008.99 L786.32 1009.15 L790.04 1009.32 L793.75 1009.48 L797.47 1009.65 L801.18 1009.81 L804.90 1009.97 L808.62 1010.13 L812.33 1010.29 L816.05 1010.44 L819.76 1010.59 L823.48 1010.74 L827.20 1010.88 L830.91 1011.02 L834.63 1011.16 L838.34 1011.30 L842.06 1011.44 L845.78 1011.58 L849.49 1011.72 L853.21 1011.86 L856.92 1012.01 L860.64 1012.16 L864.36 1012.31 L868.07 1012.47 L871.79 1012.64 L875.50 1012.81 L879.22 1012.98 L882.94 1013.16 L886.65 1013.33 L890.37 1013.51 L894.08 1013.68 L897.80 1013.86 L901.52 1014.03 L905.23 1014.19 L908.95 1014.36 L912.66 1014.51 L916.38 1014.67 L920.10 1014.82 L923.81 1014.96 L927.53 1015.11 L931.24 1015.25 L934.96 1015.40 L938.68 1015.54 L942.39 1015.68 L946.11 1015.83 L949.82 1015.97 L953.54 1016.12 L957.26 1016.27 L960.97 1016.42 L964.69 1016.58 L968.40 1016.73 L972.12 1016.89 L975.84 1017.05 L979.55 1017.21 L983.27 1017.36 L986.98 1017.52 L990.70 1017.67 L994.42 1017.82" fill="none" stroke="#f00" stroke-width="9.0" stroke-dasharray="48.2 46.8" stroke-dashoffset="1.6"/>
<path d="M994.42 1017.82 L998.13 1017.96 L1001.85 1018.11 L1005.56 1018.25 L1009.28 1018.39 L1013.00 1018.53 L1016.71 1018.67 L1020.43 1018.81 L1024.14 1018.94 L1027.86 1019.08 L1031.58 1019.22 L1035.29 1019.35 L1039.01 1019.49 L1042.72 1019.63 L1046.44 1019.76 L1050.16 1019.90 L1053.87 1020.04 L1057.59 1020.18 L1061.30 1020.32 L1065.02 1020.46 L1068.74 1020.60 L1072.45 1020.73 L1076.17 1020.86 L1079.88 1020.99 L1083.60 1021.12 L1087.32 1021.25 L1091.03 1021.37 L1094.75 1021.48 L1098.46 1021.60 L1102.18 1021.71 L1105.90 1021.82 L1109.61 1021.93 L1113.33 1022.04 L1117.04 1022.15 L1120.76 1022.25 L1124.48 1022.35 L1128.19 1022.46 L1131.91 1022.56 L1135.62 1022.66 L1139.34 1022.76 L1143.06 1022.86 L1146.77 1022.96 L1150.49 1023.06 L1154.20 1023.15 L1157.92 1023.25 L1161.64 1023.34 L1165.35 1023.44 L1169.07 1023.53 L1172.78 1023.62 L1176.50 1023.72 L1180.22 1023.81 L1183.93 1023.91 L1187.65 1024.01 L1191.36 1024.11 L1195.08 1024.21 L1198.80 1024.30 L1202.51 1024.40 L1206.23 1024.50 L1209.94 1024.60 L1213.66 1024.70 L1217.38 1024.80 L1221.09 1024.90 L1224.81 1025.00 L1228.52 1025.10 L1232.24 1025.21 L1235.96 1025.31 L1239.67 1025.42 L1243.39 1025.52 L1247.10 1025.63 L1250.82 1025.74 L1254.54 1025.84 L1258.25 1025.95 L1261.97 1026.06 L1265.68 1026.16 L1269.40 1026.27 L1273.12 1026.37 L1276.83 1026.47 L1280.55 1026.57 L1284.26 1026.66 L1287.98 1026.75 L1291.70 1026.84 L1295.41 1026.93 L1299.13 1027.02 L1302.84 1027.11 L1306.56 1027.20 L1310.28 1027.28 L1313.99 1027.37 L1317.71 1027.46 L1321.42 1027.56 L1325.14 1027.65 L1328.86 1027.75 L1332.57 1027.85 L1336.29 1027.95 L1340.00 1028.06 L1343.72 1028.17 L1347.44 1028.28 L1351.15 1028.38 L1354.87 1028.49 L1358.58 1028.60 L1362.30 1028.71 L1366.02 1028.81 L1369.73 1028.91 L1373.45 1029.01 L1377.16 1029.11 L1380.88 1029.20 L1384.60 1029.30 L1388.31 1029.39 L1392.03 1029.48 L1395.74 1029.57 L1399.46 1029.66 L1403.18 1029.75 L1406.89 1029.84 L1410.61 1029.93 L1414.32 1030.02 L1418.04 1030.10 L1421.76 1030.19 L1425.47 1030.28 L1429.19 1030.38 L1432.90 1030.47 L1436.62 1030.56 L1440.34 1030.65 L1444.05 1030.74 L1447.77 1030.83 L1451.48 1030.92 L1455.20 1031.01 L1458.92 1031.09 L1462.63 1031.18 L1466.35 1031.26 L1470.06 1031.35 L1473.78 1031.42 L1477.50 1031.50 L1481.21 1031.58 L1484.93 1031.65 L1488.64 1031.73 L1492.36 1031.80 L1496.08 1031.88 L1499.79 1031.95 L1503.51 1032.02 L1507.22 1032.10 L1510.94 1032.17 L1514.66 1032.25 L1518.37 1032.33 L1522.09 1032.41 L1525.80 1032.49 L1529.52 1032.57 L1533.24 1032.65 L1536.95 1032.74 L1540.67 1032.82 L1544.38 1032.90 L1548.10 1032.99 L1551.82 1033.07 L1555.53 1033.15 L1559.25 1033.22 L1562.96 1033.30 L1566.68 1033.37 L1570.40 1033.44 L1574.11 1033.51 L1577.83 1033.58 L1581.54 1033.65 L1585.26 1033.72 L1588.98 1033.78 L1592.69 1033.85 L1596.41 1033.91 L1600.12 1033.98 L1603.84 1034.05 L1607.56 1034.12 L1611.27 1034.20 L1614.99 1034.27 L1618.70 1034.35 L1622.42 1034.43 L1626.14 1034.51 L1629.85 1034.59 L1633.57 1034.67 L1637.28 1034.76 L1641.00 1034.84 L1644.72 1034.92 L1648.43 1035.00 L1652.15 1035.08 L1655.86 1035.16 L1659.58 1035.23 L1663.30 1035.30 L1667.01 1035.37 L1670.73 1035.44 L1674.44 1035.51 L1678.16 1035.58 L1681.88 1035.64 L1685.59 1035.71 L1689.31 1035.78 L1693.02 1035.84 L1696.74 1035.91 L1700.46 1035.98 L1704.17 1036.05 L1707.89 1036.12 L1711.60 1036.19 L1715.32 1036.26 L1719.04 1036.34 L1722.75 1036.41 L1726.47 1036.49 L1730.18 1036.56 L1733.90 1036.63 L1737.62 1036.71 L1741.33 1036.78 L1745.05 1036.85 L1748.76 1036.92 L1752.48 1036.99 L1756.20 1037.06 L1759.91 1037.12 L1763.63 1037.18 L1767.34 1037.24 L1771.06 1037.30 L1774.78 1037.36 L1778.49 1037.42 L1782.21 1037.48 L1785.92 1037.54 L1789.64 1037.60 L1793.36 1037.66 L1797.07 1037.72 L1800.79 1037.78 L1804.50 1037.84 L1808.22 1037.91 L1811.94 1037.97 L1815.65 1038.04 L1819.37 1038.11 L1823.08 1038.17 L1826.80 1038.24 L1830.52 1038.31 L1834.23 1038.37 L1837.95 1038.43 L1841.66 1038.50 L1845.38 1038.56 L1849.10 1038.62 L1852.81 1038.67 L1856.53 1038.73 L1860.24 1038.79 L1863.96 1038.84 L1867.68 1038.89 L1871.39 1038.95 L1875.11 1039.00 L1878.82 1039.05 L1882.54 1039.10 L1886.26 1039.15 L1889.97 1039.20 L1893.69 1039.26 L1897.40 1039.31 L1901.12 1039.36 L1904.84 1039.41 L1908.55 1039.45 L1912.27 1039.50 L1915.98 1039.55 L1919.70 1039.60 L1923.42 1039.65 L1927.13 1039.70 L1930.85 1039.74 L1934.56 1039.79 L1938.28 1039.83 L1942.00 1039.88 L1945.71 1039.92 L1949.43 1039.96 L1953.14 1040.00 L1956.86 1040.04 L1960.58 1040.08 L1964.29 1040.12 L1968.01 1040.16 L1971.72 1040.19 L1975.44 1040.23 L1979.16 1040.27 L1982.87 1040.31 L1986.59 1040.34 L1990.30 1040.38 L1994.02 1040.42 L1997.74 1040.46 L2001.45 1040.50 L2005.17 1040.54 L2008.88 1040.58 L2012.60 1040.61 L2016.32 1040.65 L2020.03 1040.69 L2023.75 1040.73 L2027.46 1040.77 L2031.18 1040.81 L2034.90 1040.85 L2038.61 1040.90 L2042.33 1040.94 L2046.04 1040.98 L2049.76 1041.02 L2053.48 1041.07 L2057.19 1041.11 L2060.91 1041.16 L2064.62 1041.20 L2068.34 1041.25 L2072.06 1041.30 L2075.77 1041.35 L2079.49 1041.39 L2083.20 1041.45 L2086.92 1041.50 L2090.64 1041.55 L2094.35 1041.61 L2098.07 1041.68 L2101.78 1041.74 L2105.50 1041.80" fill="none" stroke="#f00" stroke-width="9.0" stroke-dasharray="48.2 46.8"/>
<rect x="1096.5" y="1066.5" width="1006.0" height="261.0" fill="#fff" stroke="#000" stroke-width="8.5"/>
<line x1="1151.0" y1="1139.5" x2="1427.5" y2="1139.5" stroke="#00f" stroke-width="9.0"/>
<line x1="1151.0" y1="1253.5" x2="1427.5" y2="1253.5" stroke="#f00" stroke-width="9.0" stroke-dasharray="48.2 46.8"/>
<text class="gk" transform="translate(1453.13 1162.00) scale(0.9 1)">γ</text><text x="1480.30" y="1162.00">=0dB, </text><text class="gk" x="1661.66" y="1162.00">ψ</text><text x="1705.86" y="1162.00">=10dBm</text>
<text class="gk" transform="translate(1453.13 1278.00) scale(0.9 1)">γ</text><text x="1480.30" y="1278.00">=20dB, </text><text class="gk" x="1696.91" y="1278.00">ψ</text><text x="1741.11" y="1278.00">=10dBm</text>
<text x="224.5" y="878.00" text-anchor="end">0</text>
<text x="225.5" y="1062.00" text-anchor="end">5</text>
<text x="191.54" y="1066.70" text-anchor="end">−</text>
<text x="224.5" y="1244.90" text-anchor="end">10</text>
<text x="155.28" y="1249.60" text-anchor="end">−</text>
<text x="224.5" y="1428.90" text-anchor="end">15</text>
<text x="155.28" y="1433.60" text-anchor="end">−</text>
<text x="247.50" y="1487.0" text-anchor="middle">0</text>
<text x="619.10" y="1487.0" text-anchor="middle">100</text>
<text x="990.70" y="1487.0" text-anchor="middle">200</text>
<text x="1362.30" y="1487.0" text-anchor="middle">300</text>
<text x="1733.90" y="1487.0" text-anchor="middle">400</text>
<text x="2105.50" y="1487.0" text-anchor="middle">500</text>
<text x="1176.20" y="1569.50" text-anchor="middle" textLength="541" lengthAdjust="spacing">Number of iteration</text>
<text transform="translate(67.4 1413.30) rotate(-90)" x="0" y="0" textLength="576.5" lengthAdjust="spacing">Total transmit power</text>
</svg>
</body></html>
